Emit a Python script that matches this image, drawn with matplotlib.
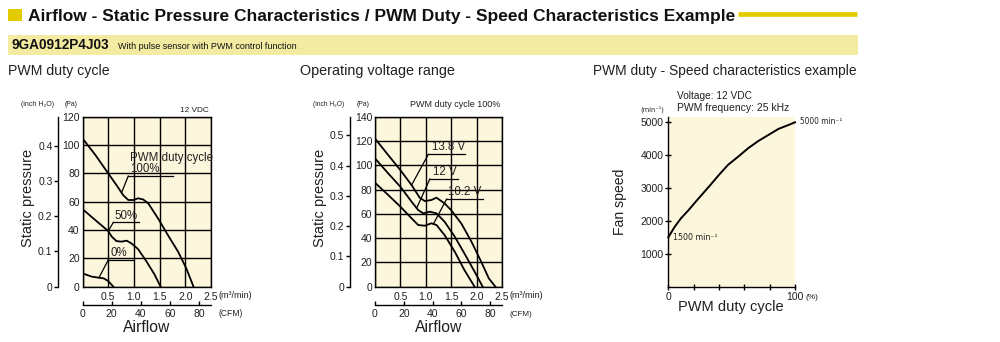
import matplotlib
matplotlib.use('Agg')
import matplotlib.pyplot as plt
import numpy as np
from matplotlib.patches import Rectangle
from matplotlib.lines import Line2D

# ---------------- data ----------------
# Chart 1: PWM duty cycle (12 VDC) -- airflow (m3/min) vs static pressure (Pa)
duty100_flow = [0, 0.25, 0.5, 0.66, 0.79, 0.89, 0.99, 1.08, 1.18, 1.28, 1.47, 1.66, 1.86, 2.02, 2.16]
duty100_pa = [104.7, 93, 80, 71.8, 64.7, 61.2, 61.2, 62.4, 61.6, 58.8, 48.2, 36.5, 24.7, 12.9, 0]
duty50_flow = [0, 0.25, 0.5, 0.57, 0.66, 0.76, 0.86, 0.95, 1.08, 1.24, 1.4, 1.52]
duty50_pa = [54.8, 47, 39.3, 35.3, 32.2, 31.8, 32.5, 30.6, 26.6, 18.1, 8.7, 0]
duty0_flow = [0, 0.18, 0.31, 0.41, 0.5, 0.6]
duty0_pa = [9.4, 7.1, 6.4, 5.9, 4.0, 0]

# Chart 2: operating voltage range (PWM duty cycle 100%)
v138_flow = [0, 0.26, 0.5, 0.72, 0.88, 0.98, 1.11, 1.21, 1.37, 1.5, 1.7, 1.9, 2.09, 2.24, 2.37]
v138_pa = [122, 108.4, 96, 83.7, 73.3, 70.5, 71.4, 73.3, 68.6, 63, 52, 37, 20.6, 6.9, 0]
v12_flow = [0, 0.26, 0.5, 0.72, 0.85, 0.95, 1.08, 1.21, 1.37, 1.57, 1.76, 1.96, 2.12]
v12_pa = [105.7, 93.3, 82.3, 70, 63.1, 60.4, 61.8, 60.4, 53.5, 41.2, 27.4, 12.4, 0]
v102_flow = [0, 0.26, 0.5, 0.72, 0.85, 0.98, 1.11, 1.21, 1.37, 1.57, 1.76, 1.96]
v102_pa = [85.6, 75.5, 65.9, 56.3, 50.8, 50.2, 52.2, 50.8, 42.5, 28.8, 13.7, 0]

# Chart 3: PWM duty (%) vs fan speed (min-1)
pwm_duty = [0, 5, 10, 16, 24, 32, 40, 47, 55, 63, 71, 79, 87, 95, 100]
fan_speed = [1500, 1820, 2080, 2330, 2690, 3040, 3400, 3700, 3950, 4210, 4430, 4615, 4800, 4920, 5000]

flow_ticks = [0, 0.5, 1.0, 1.5, 2.0, 2.5]
flow_labels = ['', '0.5', '1.0', '1.5', '2.0', '2.5']
cfm_ticks = [0, 20, 40, 60, 80]
pa1_ticks = [0, 20, 40, 60, 80, 100, 120]
pa2_ticks = [0, 20, 40, 60, 80, 100, 120, 140]
inch1_ticks = [0, 0.1, 0.2, 0.3, 0.4]
inch2_ticks = [0, 0.1, 0.2, 0.3, 0.4, 0.5]
speed_ticks = [1000, 2000, 3000, 4000, 5000]
duty_ticks = [0, 20, 40, 60, 80, 100]
duty_labels = ['0', '', '', '', '', '100']

# ---------------- layout ----------------
W, H = 1000, 342
plt.rcParams['font.family'] = ['Liberation Sans', 'DejaVu Sans']
NARROW = ['Liberation Sans Narrow', 'Liberation Sans', 'DejaVu Sans']
TXT = '#231f20'
CREAM = '#fbf6dc'
GOLD = '#e2cc00'
BAND = '#f4eba2'

fig = plt.figure(figsize=(10, 3.42), dpi=100)
renderer = fig.canvas.get_renderer()


def fx(px):
    return px / W


def fy(py):
    return 1 - py / H


def ax_rect(l, t, r, b):
    return [fx(l), fy(b), (r - l) / W, (b - t) / H]


def fit(t, width_px, vertical=False):
    bb = t.get_window_extent(renderer)
    cur = bb.height if vertical else bb.width
    t.set_fontsize(t.get_fontsize() * width_px / cur)
    return t


def ftext(px, py, s, width=None, vertical=False, **kw):
    kw.setdefault('color', TXT)
    t = fig.text(fx(px), fy(py), s, **kw)
    if width:
        fit(t, width, vertical)
    return t


# ---------------- header ----------------
fig.add_artist(Rectangle((fx(8), fy(21)), 14 / W, 12 / H, transform=fig.transFigure,
                         facecolor=GOLD, edgecolor='none'))
fig.add_artist(Rectangle((fx(8), fy(54.5)), 850 / W, 19.5 / H, transform=fig.transFigure,
                         facecolor=BAND, edgecolor='none'))
fig.add_artist(Line2D([fx(738), fx(857)], [fy(13.5), fy(13.5)], transform=fig.transFigure,
                      color=GOLD, lw=3.4, solid_capstyle='butt'))
ftext(28, 20.7, 'Airflow - Static Pressure Characteristics / PWM Duty - Speed Characteristics Example',
      width=707, fontsize=14, fontweight='bold', va='baseline', color='#111111')
ftext(11.7, 49.3, '9GA0912P4J03', width=98, fontsize=10, fontweight='bold', va='baseline', color='#111111')
ftext(118, 49.0, 'With pulse sensor with PWM control function', width=182, fontsize=5,
      va='baseline', color='#111111')

# section titles
ftext(8, 75, 'PWM duty cycle', width=102, fontsize=10, va='baseline')
ftext(300, 75, 'Operating voltage range', width=155, fontsize=10, va='baseline')
ftext(593, 75, 'PWM duty - Speed characteristics example', width=264, fontsize=10, va='baseline')


def pressure_chart(rect, ymax, pa_ticks, inch_ticks, inch_loc, cfm_loc):
    ax = fig.add_axes(rect)
    ax.set_facecolor(CREAM)
    ax.set_xlim(0, 2.5)
    ax.set_ylim(0, ymax)
    ax.set_xticks(flow_ticks)
    ax.set_xticklabels(flow_labels)
    ax.set_yticks(pa_ticks)
    ax.set_yticklabels([str(v) for v in pa_ticks])
    ax.grid(True, color='black', lw=1.0)
    ax.set_axisbelow(True)
    for s in ax.spines.values():
        s.set_linewidth(1.0)
    ax.tick_params(axis='both', length=0, labelsize=7.5, labelcolor=TXT)
    ax.tick_params(axis='y', pad=2)
    ax.tick_params(axis='x', pad=3.5)
    for lab in ax.get_xticklabels() + ax.get_yticklabels():
        lab.set_family(NARROW)
    sec = ax.secondary_yaxis(inch_loc, functions=(lambda p: p / 249.089, lambda i: i * 249.089))
    sec.set_yticks(inch_ticks)
    sec.set_yticklabels(['0' if v == 0 else f'{v:.1f}' for v in inch_ticks])
    sec.tick_params(direction='out', length=3, width=1, labelsize=7.5, pad=1, labelcolor=TXT)
    sec.spines['left'].set_linewidth(1.0)
    for lab in sec.get_yticklabels():
        lab.set_family(NARROW)
    secx = ax.secondary_xaxis(cfm_loc, functions=(lambda m: m * 35.3147, lambda c: c / 35.3147))
    secx.set_xticks(cfm_ticks)
    secx.set_xticklabels([str(v) for v in cfm_ticks])
    secx.tick_params(direction='in', length=3, width=1, labelsize=7.5, pad=2.5, labelcolor=TXT)
    secx.spines['bottom'].set_linewidth(1.0)
    for lab in secx.get_xticklabels():
        lab.set_family(NARROW)
    return ax


def callout(ax, fx_, fy_, text_x, text, ul_x0, ul_x1, ul_y, leader_x):
    ax.plot([ul_x0, ul_x1], [ul_y, ul_y], color='black', lw=0.9, clip_on=False)
    ax.plot([ul_x0, leader_x], [ul_y, np.interp(leader_x, fx_, fy_)], color='black', lw=0.9)
    ax.text(text_x, ul_y + 0.6 * (ax.get_ylim()[1] / 120), text, fontsize=8.3, color=TXT,
            va='bottom', ha='left')


# ---------------- chart 1 ----------------
ax1 = pressure_chart(ax_rect(82.5, 116.7, 211, 286.7), 120, pa1_ticks, inch1_ticks, -0.19, -0.108)
ax1.plot(duty100_flow, duty100_pa, color='black', lw=1.3)
ax1.plot(duty50_flow, duty50_pa, color='black', lw=1.3)
ax1.plot(duty0_flow, duty0_pa, color='black', lw=1.3)
callout(ax1, duty100_flow, duty100_pa, 0.92, '100%', 0.89, 1.77, 78.1, 0.76)
ax1.text(0.92, 90.8, 'PWM duty cycle', fontsize=8.3, color=TXT, va='center', ha='left')
callout(ax1, duty50_flow, duty50_pa, 0.63, '50%', 0.6, 1.09, 45.4, 0.5)
callout(ax1, duty0_flow, duty0_pa, 0.54, '0%', 0.5, 0.99, 18.8, 0.32)

ftext(20.7, 105.7, '(inch H\u2082O)', width=33, fontsize=6, va='baseline', family=NARROW)
ftext(65, 105.7, '(Pa)', width=13, fontsize=6, va='baseline', family=NARROW)
ftext(180, 111.7, '12 VDC', width=29, fontsize=6, va='baseline', family=NARROW)
ftext(218.3, 298, '(m\u00b3/min)', width=34, fontsize=6, va='baseline', family=NARROW)
ftext(218.3, 315.7, '(CFM)', width=24, fontsize=6, va='baseline', family=NARROW)
ftext(146.3, 331.7, 'Airflow', width=47, fontsize=11, va='baseline', ha='center')
ftext(28, 198, 'Static pressure', width=97, vertical=True, fontsize=11, rotation=90,
      va='center', ha='center')

# ---------------- chart 2 ----------------
ax2 = pressure_chart(ax_rect(375, 116.7, 502, 286.7), 140, pa2_ticks, inch2_ticks, -0.197, -0.108)
ax2.plot(v138_flow, v138_pa, color='black', lw=1.3)
ax2.plot(v12_flow, v12_pa, color='black', lw=1.3)
ax2.plot(v102_flow, v102_pa, color='black', lw=1.3)
callout(ax2, v138_flow, v138_pa, 1.12, '13.8 V', 1.05, 1.77, 109, 0.72)
callout(ax2, v12_flow, v12_pa, 1.14, '12 V', 1.08, 1.64, 88.7, 0.82)
callout(ax2, v102_flow, v102_pa, 1.44, '10.2 V', 1.41, 2.13, 72.2, 1.15)

ftext(312.7, 106, '(inch H\u2082O)', width=31, fontsize=6, va='baseline', family=NARROW)
ftext(356.7, 106, '(Pa)', width=13, fontsize=6, va='baseline', family=NARROW)
ftext(410, 107.3, 'PWM duty cycle 100%', width=92, fontsize=6, va='baseline', family=NARROW)
ftext(510, 298, '(m\u00b3/min)', width=34, fontsize=6, va='baseline', family=NARROW)
ftext(510, 315.7, '(CFM)', width=23, fontsize=6, va='baseline', family=NARROW)
ftext(438.8, 331.7, 'Airflow', width=47, fontsize=11, va='baseline', ha='center')
ftext(320, 198, 'Static pressure', width=97, vertical=True, fontsize=11, rotation=90,
      va='center', ha='center')

# ---------------- chart 3 ----------------
ax3 = fig.add_axes(ax_rect(668.3, 116.7, 795, 286.7))
ax3.set_facecolor(CREAM)
ax3.set_xlim(0, 100)
ax3.set_ylim(0, 5170)
ax3.spines['top'].set_visible(False)
ax3.spines['right'].set_visible(False)
ax3.spines['left'].set_linewidth(1.0)
ax3.spines['bottom'].set_linewidth(1.0)
ax3.set_yticks(speed_ticks)
ax3.set_yticklabels([str(v) for v in speed_ticks])
ax3.set_xticks(duty_ticks)
ax3.set_xticklabels(duty_labels)
ax3.tick_params(axis='y', direction='inout', length=5, width=1, labelsize=7.5, pad=1, labelcolor=TXT)
ax3.tick_params(axis='x', direction='inout', length=4, width=1, labelsize=7.5, pad=2, labelcolor=TXT)
for lab in ax3.get_xticklabels() + ax3.get_yticklabels():
    lab.set_family(NARROW)
ax3.plot(pwm_duty, fan_speed, color='black', lw=1.4, clip_on=False)

ftext(640, 111.7, '(min\u207b\u00b9)', width=24, fontsize=6, va='baseline',
      family=['Liberation Sans Narrow', 'DejaVu Sans'])
ftext(676.7, 99, 'Voltage: 12 VDC', width=75, fontsize=7, va='baseline')
ftext(676.7, 111, 'PWM frequency: 25 kHz', width=112, fontsize=7, va='baseline')
ftext(800, 121.7, '5000 min\u207b\u00b9', width=43, fontsize=7, va='center',
      family=['Liberation Sans Narrow', 'DejaVu Sans'])
ftext(673, 237.3, '1500 min\u207b\u00b9', width=45, fontsize=7, va='center',
      family=['Liberation Sans Narrow', 'DejaVu Sans'])
ftext(806, 299.3, '(%)', width=13, fontsize=6, va='baseline', family=NARROW)
ftext(730.5, 310.5, 'PWM duty cycle', width=105, fontsize=11, va='baseline', ha='center')
ftext(620, 202, 'Fan speed', width=66, vertical=True, fontsize=11, rotation=90,
      va='center', ha='center')

fig.savefig('out.png', dpi=100)
